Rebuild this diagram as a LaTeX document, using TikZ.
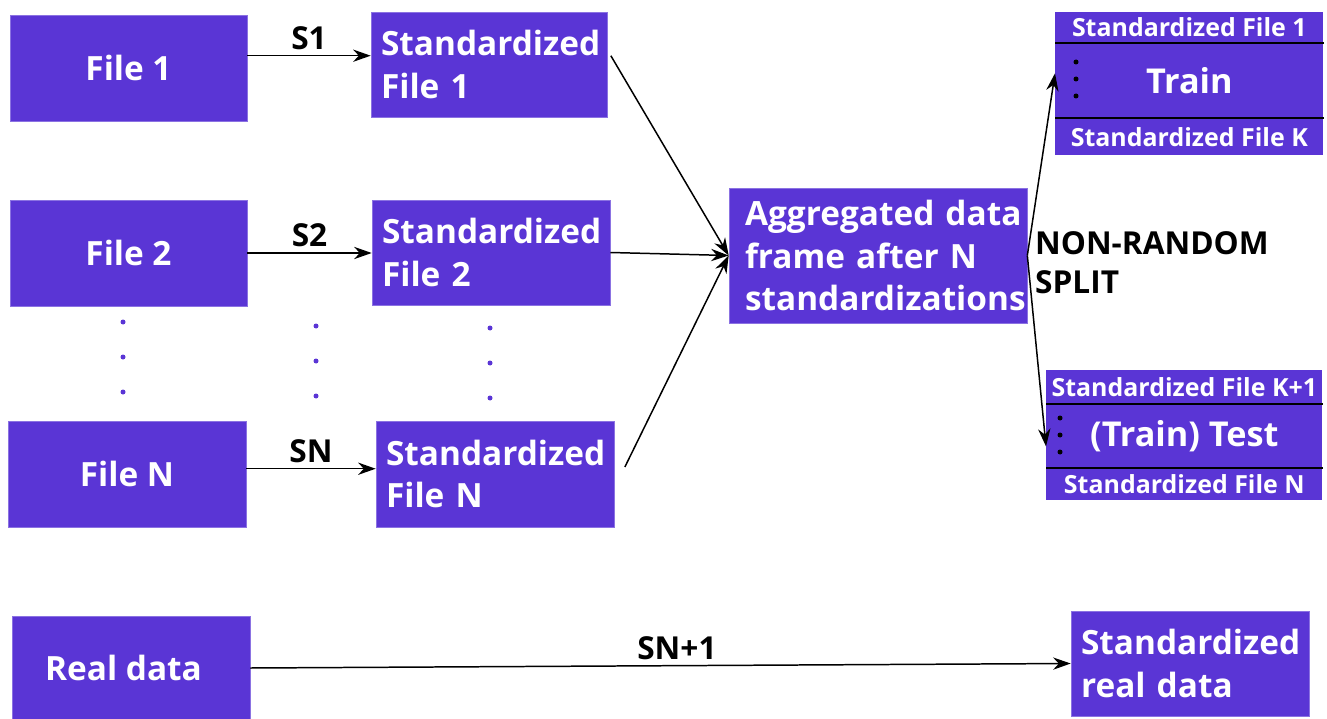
\documentclass[tikz,border=0pt]{standalone}
\usepackage{fontspec}
\setmainfont{Open Sans}
\usepackage{xcolor}
\usetikzlibrary{arrows.meta,positioning,calc}
\definecolor{cPurple}{HTML}{5A35D5}
\definecolor{cInk}{HTML}{000000}
\tikzset{
  fbox/.style={fill=cPurple,draw=cPurple!70!white,line width=0.4pt,text=white,font=\fontsize{19}{24}\selectfont\bfseries,align=center,inner sep=0pt},
  sbox/.style={fbox,align=left,inner xsep=0.2cm},
  strip/.style={fill=cPurple,draw=none,text=white,font=\fontsize{14.2}{16}\selectfont\bfseries,inner sep=0pt,anchor=north west},
  arr/.style={-{Stealth[length=10pt,width=7pt]},line width=0.85pt,color=cInk},
  lbl/.style={font=\fontsize{18}{22}\selectfont\bfseries,text=cInk,inner sep=1pt},
  vdot/.style={fill=cPurple},
  sdot/.style={fill=cInk},
}
\begin{document}
\begin{tikzpicture}[x=0.02cm,y=-0.02cm]
  \useasboundingbox (0,0) rectangle (1327,719);
  % source files
  \node[fbox,minimum width=4.74cm,minimum height=2.12cm] (file1) at (128.5,68)  {File 1};
  \node[fbox,minimum width=4.74cm,minimum height=2.12cm] (file2) at (128.5,253) {File 2};
  \node[fbox,minimum width=4.76cm,minimum height=2.12cm] (fileN) at (127,474)   {File N};
  % standardized files
  \node[sbox,minimum width=4.72cm,minimum height=2.10cm,text width=4.32cm] (std1) at (489,64.5) {Standardized\\File 1};
  \node[sbox,minimum width=4.76cm,minimum height=2.10cm,text width=4.36cm] (std2) at (491,252.5) {Standardized\\File 2};
  \node[sbox,minimum width=4.76cm,minimum height=2.12cm,text width=4.36cm] (stdN) at (495,474) {Standardized\\File N};
  % vertical dots
  \foreach \y in {322,357,392} \fill[vdot] (123,\y) circle (2.5);
  \foreach \y in {326,361,396} \fill[vdot] (316,\y) circle (2.5);
  \foreach \y in {328,363,398} \fill[vdot] (490,\y) circle (2.5);
  % aggregation
  \node[sbox,minimum width=5.96cm,minimum height=2.70cm,text width=5.32cm,inner xsep=0.32cm] (agg) at (878,255.5) {Aggregated~data\\frame~after~N\\standardizations};
  % train stack
  \node[strip,minimum width=5.36cm,minimum height=0.60cm] (trtop) at (1055,12) {Standardized File 1};
  \node[strip,minimum width=5.36cm,minimum height=1.52cm,font=\fontsize{19.5}{24}\selectfont\bfseries] (trmid) at (1055,42) {Train};
  \node[strip,minimum width=5.36cm,minimum height=0.74cm] (trbot) at (1055,118) {Standardized File K};
  \draw[line width=1.2pt] (trtop.south west) -- (trtop.south east);
  \draw[line width=1.2pt] (trbot.north west) -- (trbot.north east);
  \foreach \y in {62,79,96} \fill[sdot] (1076,\y) circle (2.5);
  % test stack
  \node[strip,minimum width=5.52cm,minimum height=0.66cm] (tstop) at (1046,370) {Standardized File K+1};
  \node[strip,minimum width=5.52cm,minimum height=1.30cm,font=\fontsize{19.5}{24}\selectfont\bfseries] (tsmid) at (1046,403) {(Train) Test};
  \node[strip,minimum width=5.52cm,minimum height=0.64cm] (tsbot) at (1046,468) {Standardized File N};
  \draw[line width=1.2pt] (tstop.south west) -- (tstop.south east);
  \draw[line width=1.2pt] (tsbot.north west) -- (tsbot.north east);
  \foreach \y in {418,435,452} \fill[sdot] (1060,\y) circle (2.5);
  % real data
  \node[fbox,minimum width=4.76cm,minimum height=2.08cm] (real) at (131,668) {Real data\hspace*{0.3cm}};
  \node[sbox,minimum width=4.76cm,minimum height=2.10cm,text width=4.36cm,inner xsep=0.2cm] (sreal) at (1190,663.5) {Standardized\\real data};
  % standardization arrows
  \draw[arr] ([yshift=7pt]file1.east) -- node[lbl,above,yshift=2pt] {S1} ([yshift=7pt]file1.east -| std1.west);
  \draw[arr] (file2.east) -- node[lbl,above,yshift=2pt] {S2} (file2.east -| std2.west);
  \draw[arr] ([yshift=3pt]fileN.east) -- node[lbl,above,yshift=2pt] {SN} ([yshift=3pt]fileN.east -| stdN.west);
  % aggregation arrows
  \draw[arr] ([xshift=2pt,yshift=5pt]std1.east) -- (agg.west);
  \draw[arr] (std2.east) -- (agg.west);
  \draw[arr] ([xshift=6pt,yshift=4pt]stdN.east) -- (agg.west);
  % split
  \draw[arr] (agg.east) -- ([yshift=4pt]trmid.west);
  \draw[arr] (agg.east) -- ([yshift=-6pt]tsmid.west);
  \node[lbl,anchor=west,align=left] (split) at (1033,263) {NON-RANDOM\\SPLIT};
  % real data path
  \draw[arr] (real.east) -- node[lbl,above,yshift=2pt,pos=0.52] {SN+1} (sreal.west);
\end{tikzpicture}
\end{document}
